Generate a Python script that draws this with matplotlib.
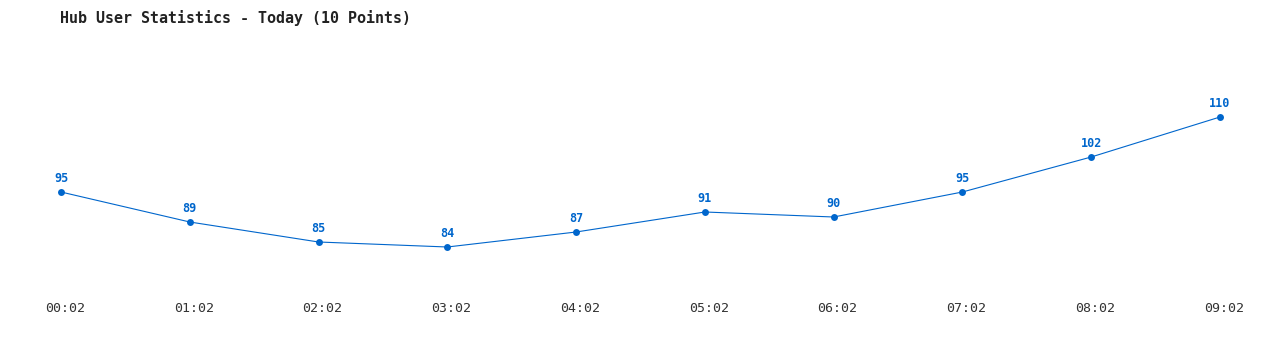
import matplotlib.pyplot as plt

times = ["00:02", "01:02", "02:02", "03:02", "04:02",
         "05:02", "06:02", "07:02", "08:02", "09:02"]
users = [95, 89, 85, 84, 87, 91, 90, 95, 102, 110]

blue = "#0066cc"
mono = ["DejaVu Sans Mono"]

fig = plt.figure(figsize=(12.8, 3.5), dpi=100)
ax = fig.add_axes([0, 0, 1, 1])
ax.set_xlim(-0.4737, 9.466)
ax.set_ylim(63.4, 133.4)
ax.axis("off")

xs = list(range(len(users)))
ax.plot(xs, users, color=blue, lw=0.8, marker="o", markersize=5,
        markeredgewidth=0)

for x, v, t in zip(xs, users, times):
    ax.annotate(str(v), (x, v), xytext=(0, 5), textcoords="offset points",
                ha="center", va="bottom", color=blue, fontsize=8.5,
                fontweight="bold", family=mono)
    # time labels along the bottom
    ax.text(x + 0.03, 1 - 308 / 350, t, transform=ax.get_xaxis_transform(),
            ha="center", va="center", fontsize=9.5, color="#333333",
            family=mono)

fig.text(60 / 1280, 1 - 18 / 350, "Hub User Statistics - Today (10 Points)",
         ha="left", va="center", fontsize=10.8, fontweight="bold",
         color="#222222", family=mono)

fig.savefig("out.png", dpi=100, facecolor="white")
